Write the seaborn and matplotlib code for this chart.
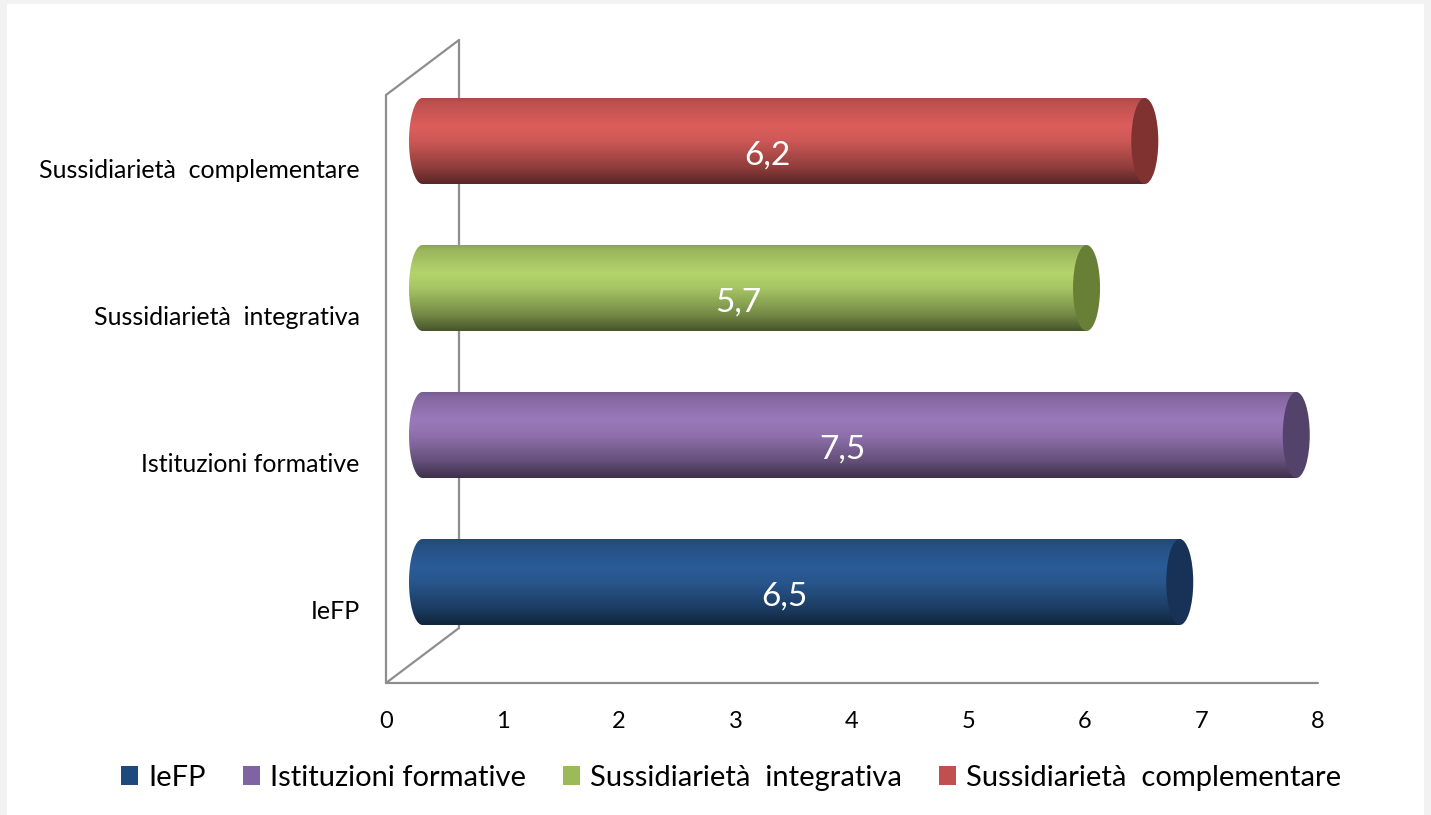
import numpy as np
import pandas as pd
import matplotlib
matplotlib.use("Agg")
import matplotlib.pyplot as plt
import seaborn as sns
from matplotlib.patches import Ellipse, Rectangle, Patch, PathPatch
from matplotlib.path import Path
from matplotlib.colors import to_rgb

# ---- data ----
categories = ["IeFP", "Istituzioni formative", "Sussidiarietà  integrativa", "Sussidiarietà  complementare"]
values = [6.5, 7.5, 5.7, 6.2]
value_labels = ["6,5", "7,5", "5,7", "6,2"]
x_ticks = [0, 1, 2, 3, 4, 5, 6, 7, 8]
legend_colors = ["#1F497D", "#8064A2", "#9BBB59", "#C0504D"]
light_colors = ["#2B5C97", "#9A79BA", "#B3D46C", "#DC5E5C"]
cap_colors = ["#173256", "#534269", "#687F36", "#7F3230"]

W, H = 1431, 815
sns.set_theme(style="white")
plt.rcParams['font.family'] = ['Lato', 'DejaVu Sans']

fig = plt.figure(figsize=(W / 100, H / 100), dpi=100, facecolor="#f2f2f2")
fig.patches.append(Rectangle((7 / W, 0), (1424 - 7) / W, 811 / H, transform=fig.transFigure,
                             facecolor="white", edgecolor="none", zorder=-10))
ax = fig.add_axes([386 / W, (H - 683) / H, 932 / W, 588 / H])
ax.set_facecolor("none")

df = pd.DataFrame({"cat": categories, "val": values})
order = categories[::-1]
sns.barplot(data=df, x="val", y="cat", hue="cat", order=order, hue_order=categories,
            palette=legend_colors, orient="h", width=0.585, legend=False, ax=ax)
ax.set_xlim(0, 8)
ax.set_ylim(3.5, -0.5)

# 3D depth offsets (in data units)
px_per_x = 932 / 8.0
px_per_y = 588 / 4.0
dx = 73 / px_per_x
dy = 55 / px_per_y
dxh, dyh = dx / 2, dy / 2
ex = 13.5 / px_per_x


def shade(rgb, f):
    rgb = np.array(rgb)
    if f <= 1:
        return rgb * f
    return rgb + (1 - rgb) * (f - 1)


tk = [0.0, 0.06, 0.32, 0.5, 0.8, 1.0]
fk = [0.78, 0.86, 1.0, 0.93, 0.66, 0.4]
N = 200
tt = np.linspace(0, 1, N)
prof = np.interp(tt, tk, fk)

for p in list(ax.patches):
    y0, h, w = p.get_y(), p.get_height(), p.get_width()
    pos = int(round(y0 + h / 2))
    idx = categories.index(order[pos])
    p.set_visible(False)
    xc0, xc1 = dxh, w + dxh
    yc = y0 + h / 2 - dyh
    th = np.linspace(-np.pi / 2, np.pi / 2, 60)
    arc = np.column_stack([xc0 - ex * np.cos(th), yc + (h / 2) * np.sin(th)])
    verts = np.vstack([[xc1, yc - h / 2], arc, [xc1, yc + h / 2], [xc1, yc - h / 2]])
    codes = [Path.MOVETO] + [Path.LINETO] * (len(verts) - 2) + [Path.CLOSEPOLY]
    body = PathPatch(Path(verts, codes), facecolor="none", edgecolor="none", zorder=2)
    ax.add_patch(body)
    base = to_rgb(light_colors[idx])
    img = np.array([shade(base, f) for f in prof]).reshape(N, 1, 3)
    im = ax.imshow(img, extent=(xc0 - ex, xc1, yc + h / 2, yc - h / 2), aspect="auto",
                   origin="upper", interpolation="bilinear", zorder=2)
    im.set_clip_path(body)
    ax.add_patch(Ellipse((xc1, yc), 2 * ex, h, facecolor=cap_colors[idx], edgecolor="none", zorder=3))
    ax.text(w / 2 + 0.17, yc + 0.16, value_labels[idx], color="white", fontsize=24,
            ha="center", va="baseline", zorder=4)

ax.set_xlim(0, 8)
ax.set_ylim(3.5, -0.5)

# frame lines
lc = "#8e8e8e"
lw = 1.6
ax.plot([0, 0], [3.5, -0.5], color=lc, lw=lw, clip_on=False, zorder=1)
ax.plot([0, 8], [3.5, 3.5], color=lc, lw=lw, clip_on=False, zorder=1)
ax.plot([dx, dx], [3.5 - dy, -0.5 - dy], color=lc, lw=lw, clip_on=False, zorder=1)
ax.plot([0, dx], [-0.5, -0.5 - dy], color=lc, lw=lw, clip_on=False, zorder=1)
ax.plot([0, dx], [3.5, 3.5 - dy], color=lc, lw=lw, clip_on=False, zorder=1)

for s in ax.spines.values():
    s.set_visible(False)
ax.set_xticks(x_ticks)
ax.set_xticklabels([str(t) for t in x_ticks])
ax.tick_params(axis="both", length=0, labelsize=17, colors="black")
ax.tick_params(axis="y", labelsize=18, pad=19)
ax.tick_params(axis="x", pad=20)
ax.set_xlabel("")
ax.set_ylabel("")

handles = [Patch(facecolor=c, edgecolor="none") for c in legend_colors]
fig.legend(handles, categories, loc="center", bbox_to_anchor=(0.511, (H - 778) / H), ncol=4,
           frameon=False, fontsize=21, handlelength=0.6, handleheight=0.6, handletextpad=0.35,
           columnspacing=1.25, labelcolor="black")

fig.savefig("out.png", dpi=100, facecolor=fig.get_facecolor())
